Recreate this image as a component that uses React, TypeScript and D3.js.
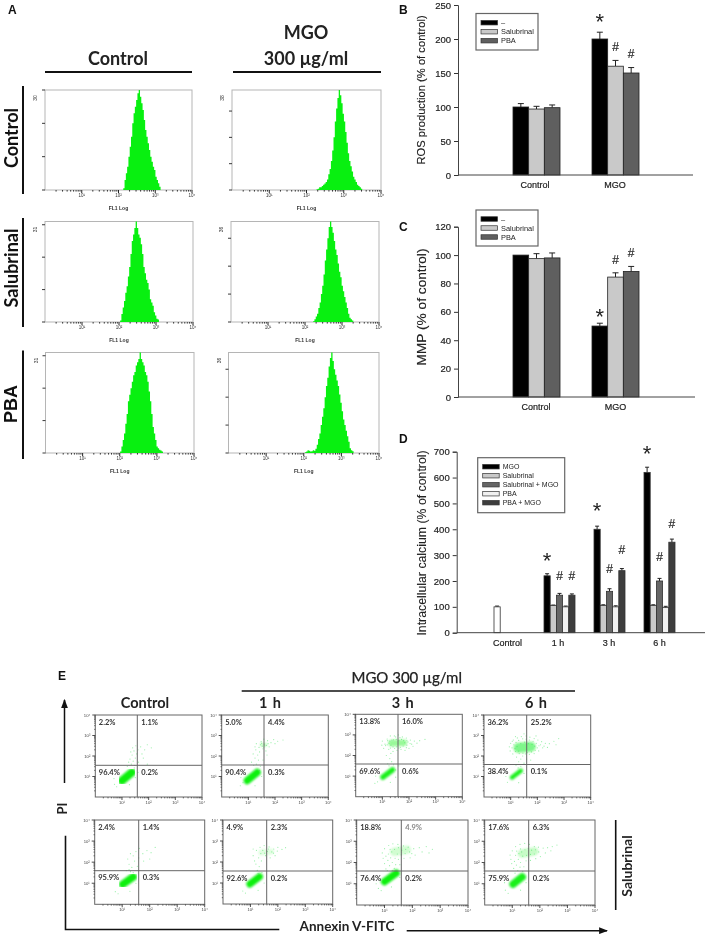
import React, { useEffect, useRef } from 'react';
import * as d3 from 'd3';

// ---------- Panel A: FL1 histograms (log10 start, bin counts) ----------
const histColumns = ['Control', 'MGO 300 µg/ml'];
const histRows = ['Control', 'Salubrinal', 'PBA'];
const histMax = [[30, 38], [31, 36], [31, 36]];
const histStart = [[2.13, 2.27], [2.03, 2.22], [2.01, 2.03]];
const histC1 = [0.5, 3, 5, 7, 10, 13, 16, 20, 23, 25, 27, 29, 30, 28, 26, 24, 21, 18, 16, 14, 12, 10, 8.5, 7, 6, 4, 3, 2, 1, 0.5];
const histM1 = [0.3, 0.5, 1, 1, 1.5, 2, 2.5, 3, 4, 6, 8, 11, 15, 20, 26, 31, 35, 38, 36, 33, 29, 26, 22, 18, 14, 11, 9, 7, 5, 4, 3, 2, 1.5, 1, 0.5, 0.3];
const histC2 = [0.5, 2.5, 4.5, 6.5, 9, 11, 14, 17, 21, 25, 27, 29, 31, 29, 27, 26, 24, 21, 17, 15, 13, 12, 10, 7, 6, 5, 3, 2, 1, 0.8, 0.5];
const histM2 = [0.3, 1, 2, 3, 5, 7, 10, 13, 17, 22, 26, 30, 34, 36, 34, 32, 29, 26, 24, 21, 18, 16, 13, 11, 9, 7, 5, 3, 1.5, 1, 0.5, 0.3];
const histC3 = [0.5, 2, 4, 6, 9, 12, 16, 18, 20, 22, 24, 25, 27, 28, 29, 31, 29, 28, 27, 25, 24, 22, 19, 16, 12, 8, 6, 4, 2, 1.5, 1, 0.8, 0.5, 0.3];
const histM3 = [0.3, 0.5, 1, 0.8, 0.5, 0.6, 1, 0.8, 1.5, 3, 5, 7, 10, 13, 16, 20, 24, 27, 31, 34, 36, 33, 30, 28, 26, 24, 21, 18, 15, 12, 10, 8, 6, 4, 1.7, 1, 0.6, 0.3];
const histCounts = [[histC1, histM1], [histC2, histM2], [histC3, histM3]];
const histBinWidth = 0.035;
const logLabels = ['10¹', '10²', '10³', '10⁴'];

// ---------- Panel B ----------
const bCategories = ['Control', 'MGO'];
const bSeries = ['–', 'Salubrinal', 'PBA'];
const bValues = [[100, 97, 99], [200, 160, 150]];
const bErrors = [[5, 4, 4], [10, 8.5, 8]];
const bMarks = [
  { cat: 1, ser: 0, sym: '*', at: 231 },
  { cat: 1, ser: 1, sym: '#', at: 189 },
  { cat: 1, ser: 2, sym: '#', at: 178 },
];

// ---------- Panel C ----------
const cValues = [[100, 97.5, 98], [50, 84.5, 88.5]];
const cErrors = [[0, 3.5, 3.5], [2, 3, 3.5]];
const cMarks = [
  { cat: 1, ser: 0, sym: '*', at: 59 },
  { cat: 1, ser: 1, sym: '#', at: 96.5 },
  { cat: 1, ser: 2, sym: '#', at: 102 },
];

// ---------- Panel D ----------
const dCategories = ['Control', '1 h', '3 h', '6 h'];
const dSeries = ['MGO', 'Salubrinal', 'Salubrinal + MGO', 'PBA', 'PBA + MGO'];
const dValues = [
  [100, null, null, null, null],
  [220, 105, 145, 100, 145],
  [400, 105, 160, 100, 240],
  [620, 105, 200, 97, 350],
];
const dErrors = [
  [3, 0, 0, 0, 0],
  [8, 2, 7, 3, 5],
  [12, 3, 10, 4, 8],
  [20, 3, 10, 5, 12],
];
const dMarks = [
  { cat: 1, ser: 0, sym: '*', at: 294 },
  { cat: 1, ser: 2, sym: '#', at: 219 },
  { cat: 1, ser: 4, sym: '#', at: 219 },
  { cat: 2, ser: 0, sym: '*', at: 485 },
  { cat: 2, ser: 2, sym: '#', at: 246 },
  { cat: 2, ser: 4, sym: '#', at: 323 },
  { cat: 3, ser: 0, sym: '*', at: 706 },
  { cat: 3, ser: 2, sym: '#', at: 294 },
  { cat: 3, ser: 4, sym: '#', at: 420 },
];

// ---------- Panel E: Annexin V / PI quadrants ----------
const eColumns = ['Control', '1 h', '3 h', '6 h'];
const quadTop = [
  ['2.2%', '1.1%', '96.4%', '0.2%'],
  ['5.0%', '4.4%', '90.4%', '0.3%'],
  ['13.8%', '16.0%', '69.6%', '0.6%'],
  ['36.2%', '25.2%', '38.4%', '0.1%'],
];
const quadBottom = [
  ['2.4%', '1.4%', '95.9%', '0.3%'],
  ['4.9%', '2.3%', '92.6%', '0.2%'],
  ['18.8%', '4.9%', '76.4%', '0.2%'],
  ['17.6%', '6.3%', '75.9%', '0.2%'],
];
// dense populations: x0, y0, x1, y1 (log10 units), spread (log10 units), opacity
const clustersTop = [
  [[1.0, 0.8, 1.37, 1.2, 0.3, 1]],
  [[0.96, 0.8, 1.33, 1.2, 0.27, 1], [1.5, 2.55, 1.65, 2.55, 0.15, 0.2]],
  [[1.02, 0.95, 1.38, 1.3, 0.2, 0.95], [1.35, 2.6, 1.8, 2.62, 0.25, 0.4]],
  [[1.05, 0.95, 1.38, 1.28, 0.16, 0.95], [1.3, 2.4, 1.75, 2.45, 0.38, 0.5]],
];
const clustersBottom = [
  [[1.02, 0.95, 1.4, 1.3, 0.27, 1]],
  [[0.98, 0.95, 1.33, 1.3, 0.25, 1], [1.4, 2.45, 1.75, 2.5, 0.22, 0.12]],
  [[1.0, 1.1, 1.42, 1.5, 0.26, 1], [1.35, 2.5, 1.8, 2.6, 0.3, 0.18]],
  [[1.03, 0.98, 1.36, 1.32, 0.27, 0.95], [1.35, 2.42, 1.8, 2.52, 0.3, 0.22]],
];
const dotsTop = [
  [[1.35, 1.6], [1.42, 1.75], [1.3, 1.85], [1.5, 1.9], [1.38, 2.05], [1.55, 2.1], [1.45, 2.25], [1.6, 2.3], [1.7, 2.45], [1.52, 2.5], [1.25, 1.7], [1.75, 2.1], [1.85, 2.3], [1.95, 2.55], [1.62, 1.7], [1.48, 1.55], [1.2, 1.5], [1.8, 1.9], [1.4, 2.4], [0.72, 0.62], [0.8, 0.5], [1.5, 0.95], [1.6, 1.2], [1.28, 0.6], [0.7, 0.9], [1.95, 1.6], [2.1, 2.4], [1.33, 2.2], [1.46, 1.42]],
  [[1.3, 1.6], [1.38, 1.8], [1.25, 1.9], [1.35, 2.05], [1.18, 2.1], [1.28, 2.3], [1.42, 2.2], [1.55, 2.35], [1.62, 2.5], [1.5, 2.62], [1.72, 2.75], [1.85, 2.65], [1.95, 2.8], [1.4, 2.42], [1.3, 2.6], [1.66, 2.25], [1.78, 2.45], [2.0, 2.6], [2.1, 2.72], [2.3, 2.78], [1.48, 2.7], [1.58, 2.82], [1.25, 2.45], [1.45, 1.5], [1.2, 1.55], [1.42, 1.3], [0.7, 0.55], [0.8, 0.7], [1.25, 0.55], [1.5, 1.0], [0.72, 0.95], [1.55, 1.8], [1.7, 2.05], [1.12, 1.7], [1.52, 2.48], [1.6, 2.58], [1.68, 2.52], [1.46, 2.55], [1.58, 2.44], [1.74, 2.6]],
  [[1.2, 1.6], [1.28, 1.85], [1.15, 2.0], [1.32, 2.1], [1.4, 2.2], [1.24, 2.3], [1.05, 2.35], [1.1, 2.55], [1.0, 2.7], [1.18, 2.8], [1.3, 2.95], [1.45, 2.95], [1.6, 3.0], [1.75, 2.9], [1.9, 2.85], [2.05, 2.75], [2.2, 2.7], [2.4, 2.72], [2.6, 2.78], [2.15, 2.45], [2.0, 2.35], [1.85, 2.25], [1.7, 2.3], [1.55, 2.25], [1.12, 2.48], [0.98, 2.5], [1.35, 1.7], [1.42, 1.55], [1.25, 1.5], [1.5, 1.3], [1.5, 2.9], [1.66, 2.87], [2.1, 2.55], [2.3, 2.6], [1.8, 2.72], [1.92, 2.5], [1.2, 2.72], [1.36, 2.75], [0.72, 0.65], [0.82, 0.72], [1.3, 0.7], [1.5, 0.95], [0.75, 1.0], [1.62, 1.5], [1.25, 2.6], [1.18, 2.52], [1.32, 2.5], [1.28, 2.7], [1.42, 2.76], [1.52, 2.78], [1.62, 2.72], [1.72, 2.78], [1.84, 2.62], [1.96, 2.66], [2.04, 2.58], [1.92, 2.74], [1.4, 2.42], [1.54, 2.42], [1.68, 2.4], [1.78, 2.46], [1.9, 2.38], [1.3, 2.36], [1.46, 2.34], [1.62, 2.36]],
  [[1.2, 1.55], [1.3, 1.72], [1.38, 1.85], [1.22, 1.95], [1.45, 2.0], [1.08, 2.1], [0.98, 2.25], [0.95, 2.45], [1.0, 2.62], [1.1, 2.78], [1.25, 2.88], [1.4, 2.95], [1.58, 2.98], [1.72, 2.92], [1.88, 2.85], [2.02, 2.78], [2.16, 2.7], [2.3, 2.62], [2.45, 2.6], [2.62, 2.72], [2.8, 2.85], [2.2, 2.4], [2.05, 2.25], [1.88, 2.12], [1.7, 2.08], [1.55, 2.1], [1.6, 1.85], [1.5, 1.65], [1.38, 1.5], [1.28, 1.42], [1.18, 2.22], [1.32, 2.12], [2.12, 2.55], [2.25, 2.48], [2.38, 2.42], [1.06, 2.72], [1.18, 2.95], [1.5, 3.08], [1.95, 2.98], [1.75, 1.8], [1.5, 1.15], [0.88, 0.72], [1.3, 0.7], [0.82, 1.0], [2.7, 2.55], [1.05, 2.4], [1.12, 2.55], [1.2, 2.66], [1.3, 2.76], [1.45, 2.84], [1.58, 2.82], [1.7, 2.78], [1.84, 2.72], [1.96, 2.62], [2.06, 2.5], [2.0, 2.4], [1.92, 2.28], [1.78, 2.2], [1.62, 2.16], [1.46, 2.14], [1.3, 2.24], [1.16, 2.36], [1.24, 2.46], [1.38, 2.6], [1.52, 2.68], [1.66, 2.6], [1.8, 2.56], [1.9, 2.48]],
];
const dotsBottom = [
  [[1.3, 1.55], [1.35, 1.75], [1.25, 1.9], [1.2, 2.15], [1.3, 2.4], [1.4, 2.3], [1.5, 2.5], [1.62, 2.65], [1.75, 2.4], [1.9, 2.55], [2.05, 2.45], [2.2, 2.7], [1.45, 2.05], [1.25, 1.65], [1.55, 1.8], [1.78, 2.05], [0.75, 0.6], [0.85, 0.5], [1.5, 1.0], [1.28, 0.62], [1.15, 1.6], [1.4, 1.5], [1.6, 2.2], [2.0, 2.15]],
  [[1.25, 1.6], [1.32, 1.78], [1.2, 1.9], [1.15, 2.05], [1.3, 2.2], [1.4, 2.05], [1.1, 2.3], [1.22, 2.55], [1.1, 2.62], [1.35, 2.7], [1.5, 2.78], [1.68, 2.72], [1.85, 2.62], [2.0, 2.7], [2.15, 2.6], [2.28, 2.68], [1.55, 2.3], [1.72, 2.2], [1.9, 2.3], [1.42, 1.5], [1.28, 1.45], [0.72, 0.62], [0.82, 0.52], [1.5, 1.0], [1.28, 0.65], [1.45, 2.55], [1.62, 2.5], [1.78, 2.48], [1.38, 2.4], [1.52, 2.42], [1.66, 2.62], [1.84, 2.42], [1.98, 2.52]],
  [[1.05, 1.7], [1.18, 1.85], [1.0, 1.95], [1.28, 2.0], [1.12, 2.1], [0.95, 2.2], [1.05, 2.3], [0.92, 2.45], [1.0, 2.65], [1.15, 2.8], [1.3, 2.88], [1.48, 2.85], [1.68, 2.78], [1.85, 2.72], [2.05, 2.65], [2.25, 2.7], [2.5, 2.75], [2.72, 2.62], [2.1, 2.35], [1.92, 2.22], [1.7, 2.2], [1.5, 2.15], [1.35, 1.72], [1.1, 1.62], [1.28, 1.62], [1.38, 2.2], [1.55, 1.9], [1.22, 2.22], [1.4, 1.9], [0.78, 0.78], [0.88, 0.68], [1.55, 1.3], [0.7, 1.0], [1.25, 0.85], [2.35, 2.5], [2.6, 2.45], [1.14, 2.4], [1.26, 2.5], [1.36, 2.62], [1.5, 2.7], [1.62, 2.58], [1.76, 2.62], [1.9, 2.5], [1.46, 2.4], [1.6, 2.36], [1.74, 2.42], [1.2, 2.62], [1.98, 2.42]],
  [[1.1, 1.5], [1.2, 1.62], [1.05, 1.72], [1.28, 1.78], [1.15, 1.88], [0.98, 1.95], [1.08, 2.05], [1.3, 2.0], [0.95, 2.15], [1.22, 2.15], [1.38, 1.58], [1.42, 1.8], [0.92, 2.35], [1.0, 2.55], [1.12, 2.75], [1.28, 2.85], [1.45, 2.9], [1.62, 2.85], [1.8, 2.75], [1.95, 2.72], [2.12, 2.68], [2.28, 2.7], [2.45, 2.75], [2.62, 2.82], [2.2, 2.45], [2.02, 2.28], [1.85, 2.18], [1.66, 2.1], [1.5, 2.08], [2.4, 2.55], [0.75, 0.7], [0.85, 0.55], [1.3, 0.7], [1.5, 1.05], [0.72, 1.05], [1.58, 1.6], [1.12, 2.34], [1.24, 2.42], [1.34, 2.5], [1.46, 2.6], [1.58, 2.66], [1.7, 2.58], [1.84, 2.6], [1.96, 2.5], [1.38, 2.3], [1.52, 2.34], [1.66, 2.38], [1.8, 2.4], [1.16, 2.54], [1.3, 2.64]],
];

// ---------- shared styling ----------
const ARIAL = '"Liberation Sans", Arial, sans-serif';
const CALIBRI = 'Lato, "Open Sans", sans-serif';
const GREEN = '#08f010';
const minorLogs = d3.range(0, 4).flatMap((d) => d3.range(2, 10).map((m) => d + Math.log10(m)));

function Axis({ kind, scale, x = 0, y = 0, values, size = 4, font = 10, format, pad = 3, width = 1 }: any) {
  const ref = useRef<SVGGElement>(null);
  useEffect(() => {
    const axis = (kind === 'left' ? d3.axisLeft(scale) : d3.axisBottom(scale)).tickSizeOuter(0).tickSize(size).tickPadding(pad);
    if (values) axis.tickValues(values);
    if (format) axis.tickFormat(format);
    const g = d3.select(ref.current as SVGGElement).call(axis as any);
    g.attr('font-family', ARIAL).attr('font-size', font).attr('font-weight', 400);
    g.selectAll('line').attr('stroke', '#333').attr('stroke-width', width);
    g.selectAll('path').attr('stroke', '#444').attr('stroke-width', width);
    g.selectAll('text').attr('fill', '#222').attr('stroke', '#222').attr('stroke-width', 0.2);
  }, []);
  return <g ref={ref} transform={`translate(${x},${y})`} />;
}

function Histogram({ row, col, box }: any) {
  const counts = histCounts[row][col];
  const x = d3.scaleLinear().domain([0, 4]).range([box.x0, box.x1]);
  const y = d3.scaleLinear().domain([0, histMax[row][col]]).range([box.y1, box.y0]);
  const start = histStart[row][col];
  const area = d3.area<number>()
    .x((_, i) => x(start + i * histBinWidth))
    .y0(box.y1)
    .y1((d) => y(d))
    .curve(d3.curveStepAfter);
  return (
    <g>
      <rect x={box.x0} y={box.y0} width={box.x1 - box.x0} height={box.y1 - box.y0} fill="none" stroke="#b5b5b5" strokeWidth={1} />
      <path d={area(counts) as string} fill={GREEN} />
      {minorLogs.map((v) => <line key={v} x1={x(v)} x2={x(v)} y1={box.y1} y2={box.y1 + 1.6} stroke="#222" strokeWidth={0.9} />)}
      {[1, 2, 3, 4].map((v, i) => (
        <g key={v}>
          <line x1={x(v)} x2={x(v)} y1={box.y1} y2={box.y1 + 3} stroke="#222" />
          <text x={x(v)} y={box.y1 + 7} fontSize={4.5} fontFamily={ARIAL} textAnchor="middle" fill="#333">{logLabels[i]}</text>
        </g>
      ))}
      {y.ticks(Math.floor(histMax[row][col] / 10)).map((v) => (
        <line key={v} x1={box.x0 - 3} x2={box.x0} y1={y(v)} y2={y(v)} stroke="#222" strokeWidth={0.9} />
      ))}
      <text transform={`translate(${box.x0 - 8},${box.y0 + 8}) rotate(-90)`} fontSize={5} fontFamily={ARIAL} textAnchor="middle" fill="#333">{histMax[row][col]}</text>
      <text x={(box.x0 + box.x1) / 2} y={box.y1 + 20} fontSize={5} fontWeight={700} fontFamily={ARIAL} textAnchor="middle" fill="#333">FL1 Log</text>
    </g>
  );
}

function BarChart({ cats, vals, errs, marks, fills, y, band, inner, axisY, xRange, yTicks, tickFont, labelFont, labelY, labelOffsets, capW, barStroke = '#222', starSize, hashSize }: any) {
  return (
    <g>
      {vals.map((row: any[], c: number) => row.map((v: number | null, s: number) => {
        if (v == null) return null;
        const x0 = (band(cats[c]) as number) + (inner(s) as number);
        const w = inner.bandwidth();
        const cx = x0 + w / 2;
        return (
          <g key={`${c}-${s}`}>
            {errs[c][s] > 0 && <g stroke="#222" strokeWidth={1}>
              <line x1={cx} x2={cx} y1={y(v)} y2={y(v + errs[c][s])} />
              <line x1={cx - capW} x2={cx + capW} y1={y(v + errs[c][s])} y2={y(v + errs[c][s])} />
            </g>}
            <rect x={x0} y={y(v)} width={w} height={axisY - y(v)} fill={row[1] == null ? '#ffffff' : fills[s]} stroke={barStroke} strokeWidth={0.8} />
          </g>
        );
      }))}
      <Axis kind="left" scale={y} x={xRange[0]} values={yTicks} font={tickFont} size={4} />
      <line x1={xRange[0]} x2={xRange[1]} y1={axisY} y2={axisY} stroke="#444" strokeWidth={1} />
      {cats.map((c: string, i: number) => (
        <text key={c} x={(band(c) as number) + band.bandwidth() / 2 + (labelOffsets ? labelOffsets[i] : 0)} y={labelY} fontSize={labelFont} fontFamily={ARIAL} textAnchor="middle" stroke="#222" strokeWidth={0.2} fill="#222">{c}</text>
      ))}
      {marks.map((m: any, i: number) => {
        const cx = (band(cats[m.cat]) as number) + (inner(m.ser) as number) + inner.bandwidth() / 2;
        const py = y(m.at);
        return m.sym === '*'
          ? <text key={i} x={cx} y={py + starSize * 0.5} fontSize={starSize} fontFamily={ARIAL} textAnchor="middle" fill="#222">*</text>
          : <text key={i} x={cx} y={py + hashSize * 0.36} fontSize={hashSize} fontFamily={ARIAL} textAnchor="middle" fill="#222" stroke="#222" strokeWidth={0.15}>#</text>;
      })}
    </g>
  );
}

function Legend({ x, y, w, h, names, fills, rowY, swX, swW, swH, labelX, font }: any) {
  return (
    <g>
      <rect x={x} y={y} width={w} height={h} fill="#fff" stroke="#666" strokeWidth={1.2} />
      {names.map((n: string, i: number) => (
        <g key={n}>
          <rect x={swX} y={rowY(i) - swH / 2} width={swW} height={swH} fill={fills[i]} stroke="#333" strokeWidth={0.7} />
          <text x={labelX} y={rowY(i) + font * 0.36} fontSize={font} fontFamily={ARIAL} fill="#222">{n}</text>
        </g>
      ))}
    </g>
  );
}

function Scatter({ box, quad, clusters, dots, vx, hy }: any) {
  const x = d3.scaleLinear().domain([0, 4]).range([box.x0, box.x1]);
  const y = d3.scaleLinear().domain([0, 4]).range([box.y1, box.y0]);
  const unit = x(1) - x(0);
  return (
    <g>
      <g filter="url(#clusterBlur)">
        {clusters.map((c: number[], i: number) => (
          <line key={i} x1={x(c[0])} y1={y(c[1])} x2={x(c[2])} y2={y(c[3])} stroke={GREEN} strokeWidth={c[4] * unit} strokeLinecap="round" opacity={c[5]} />
        ))}
      </g>
      {dots.map((d: number[], i: number) => <circle key={i} cx={x(d[0])} cy={y(d[1])} r={0.6} fill="#22dd44" opacity={0.45} />)}
      <rect x={box.x0} y={box.y0} width={box.x1 - box.x0} height={box.y1 - box.y0} fill="none" stroke="#666" strokeWidth={1} />
      <line x1={vx} x2={vx} y1={box.y0} y2={box.y1} stroke="#666" strokeWidth={1} />
      <line x1={box.x0} x2={box.x1} y1={hy} y2={hy} stroke="#666" strokeWidth={1} />
      {minorLogs.map((v) => (
        <g key={v} stroke="#333" strokeWidth={0.7}>
          <line x1={x(v)} x2={x(v)} y1={box.y1} y2={box.y1 + 1.4} />
          <line x1={box.x0} x2={box.x0 - 1.2} y1={y(v)} y2={y(v)} />
        </g>
      ))}
      {[1, 2, 3, 4].map((v, i) => (
        <g key={v}>
          <line x1={x(v)} x2={x(v)} y1={box.y1} y2={box.y1 + 3} stroke="#222" strokeWidth={0.8} />
          <line x1={box.x0 - 3} x2={box.x0} y1={y(v)} y2={y(v)} stroke="#222" strokeWidth={0.8} />
          <text x={x(v)} y={box.y1 + 6.5} fontSize={4.2} fontFamily={ARIAL} textAnchor="middle" fill="#444">{logLabels[i]}</text>
          <text x={box.x0 - 5} y={y(v) + 1.5} fontSize={4.2} fontFamily={ARIAL} textAnchor="end" fill="#444">{logLabels[i]}</text>
        </g>
      ))}
      {quad.map((q: string, i: number) => (
        <text key={i} x={i % 2 === 0 ? box.x0 + 3.5 : vx + 4} y={i < 2 ? box.y0 + 9.5 : hy + 9.5} fontSize={7.5} fontWeight={700} fontFamily={CALIBRI}
          fill={q === '4.9%' && i === 1 && box.x0 > 350 ? '#888' : '#333'}>{q}</text>
      ))}
    </g>
  );
}

const histBoxes = [
  [{ x0: 45, x1: 192, y0: 90, y1: 190 }, { x0: 232, x1: 381, y0: 90, y1: 190 }],
  [{ x0: 45, x1: 193, y0: 221.5, y1: 322 }, { x0: 231, x1: 379, y0: 221.5, y1: 322 }],
  [{ x0: 45.5, x1: 194, y0: 352.5, y1: 453 }, { x0: 228.5, x1: 379, y0: 352.5, y1: 453 }],
];
const sideBars = [[86, 194, 138], [218, 327, 268], [350.5, 459, 404]];
const eBoxesTop = [
  { x0: 95.3, x1: 202, y0: 715, y1: 797, vx: 137.3, hy: 765.3 },
  { x0: 221.7, x1: 328.3, y0: 715, y1: 797, vx: 264, hy: 765 },
  { x0: 355.7, x1: 462.3, y0: 714.3, y1: 796.7, vx: 398, hy: 764 },
  { x0: 484, x1: 590.7, y0: 715, y1: 797, vx: 526.7, hy: 764.5 },
];
const eBoxesBottom = [
  { x0: 94.7, x1: 204.7, y0: 820, y1: 904.3, vx: 138.7, hy: 870.7 },
  { x0: 223, x1: 332.7, y0: 820, y1: 904, vx: 266.7, hy: 871 },
  { x0: 356.7, x1: 468, y0: 820, y1: 905, vx: 401.3, hy: 871 },
  { x0: 484.7, x1: 595, y0: 820, y1: 905, vx: 528.7, hy: 871 },
];
const eColCenters = [145, 270, 402.7, 536];

const barFills = ['#000000', '#c9c9c9', '#5f5f5f'];
const dFills = ['#000000', '#c9c9c9', '#666666', '#f1f1f1', '#3d3d3d'];

export default function App() {
  const bBand = d3.scaleBand<string>().domain(bCategories).range([497, 655]).paddingInner(0.405).paddingOuter(0.2025);
  const bInner = d3.scaleBand<number>().domain(d3.range(3)).range([0, bBand.bandwidth()]);
  const bY = d3.scaleLinear().domain([0, 250]).range([175, 5]);
  const cY = d3.scaleLinear().domain([0, 120]).range([397, 226.7]);
  const dBand = d3.scaleBand<string>().domain(dCategories).range([484.5, 684.5]).paddingInner(0.38).paddingOuter(0.19);
  const dInner = d3.scaleBand<number>().domain(d3.range(5)).range([0, dBand.bandwidth()]);
  const dY = d3.scaleLinear().domain([0, 700]).range([632.7, 451.7]);

  return (
    <svg width={709} height={934} style={{ position: 'absolute', left: 0, top: 0, background: '#fff' }}>
      <defs>
        <filter id="clusterBlur" x="-30%" y="-30%" width="160%" height="160%"><feGaussianBlur stdDeviation={1.1} /></filter>
        <marker id="arrow" viewBox="0 0 8 6" refX="7" refY="3" markerWidth="6" markerHeight="5" orient="auto"><path d="M0,0L8,3L0,6z" fill="#111" /></marker>
      </defs>
      <rect width={709} height={934} fill="#fff" />
      <g style={{ filter: 'blur(0.4px)' }}>
        {/* Panel labels */}
        {[['A', 8, 14], ['B', 399, 14], ['C', 399, 231], ['D', 399, 443], ['E', 58, 680]].map(([t, x, y]) => (
          <text key={t as string} x={x as number} y={y as number} fontSize={12} fontWeight={700} fontFamily={ARIAL} fill="#111">{t}</text>
        ))}

        {/* Panel A */}
        <text x={118} y={65} fontSize={18} fontWeight={700} fontFamily={CALIBRI} textAnchor="middle" fill="#222">{histColumns[0]}</text>
        <text x={306} y={39} fontSize={18} fontWeight={700} fontFamily={CALIBRI} textAnchor="middle" fill="#222">MGO</text>
        <text x={306} y={65} fontSize={18} fontWeight={700} fontFamily={CALIBRI} textAnchor="middle" fill="#222">300 µg/ml</text>
        <line x1={45} x2={192} y1={72} y2={72} stroke="#111" strokeWidth={2} />
        <line x1={233} x2={381} y1={72} y2={72} stroke="#111" strokeWidth={2} />
        {histRows.map((r, i) => (
          <g key={r}>
            <line x1={23} x2={23} y1={sideBars[i][0]} y2={sideBars[i][1]} stroke="#111" strokeWidth={2} />
            <text transform={`translate(${i === 2 ? 16.5 : 17.8},${sideBars[i][2]}) rotate(-90)`} fontSize={18} fontWeight={700} fontFamily={i === 2 ? ARIAL : CALIBRI} textAnchor="middle" fill="#111">{r}</text>
          </g>
        ))}
        {histBoxes.map((row, r) => row.map((box, c) => <Histogram key={`${r}${c}`} row={r} col={c} box={box} />))}

        {/* Panel B */}
        <text transform="translate(424.5,90) rotate(-90)" fontSize={11.2} fontFamily={ARIAL} textAnchor="middle" stroke="#222" strokeWidth={0.15} fill="#222">ROS production (% of control)</text>
        <BarChart cats={bCategories} vals={bValues} errs={bErrors} marks={bMarks} fills={barFills} y={bY} band={bBand} inner={bInner} axisY={175} xRange={[458, 693]} yTicks={[0, 50, 100, 150, 200, 250]} tickFont={9.5} labelFont={9} labelY={188} labelOffsets={[-1.5, -0.5]} capW={3} starSize={22} hashSize={12} />
        <Legend x={476} y={13.5} w={62} h={36.5} names={bSeries} fills={barFills} rowY={(i: number) => 22.7 + i * 9} swX={481} swW={16.5} swH={4.5} labelX={501} font={7.4} />

        {/* Panel C */}
        <text transform="translate(425.5,307) rotate(-90)" fontSize={13.7} fontFamily={ARIAL} textAnchor="middle" stroke="#222" strokeWidth={0.15} fill="#222">MMP (% of control)</text>
        <BarChart cats={bCategories} vals={cValues} errs={cErrors} marks={cMarks} fills={barFills} y={cY} band={bBand} inner={bInner} axisY={397} xRange={[458, 695]} yTicks={[0, 20, 40, 60, 80, 100, 120]} tickFont={9.5} labelFont={9} labelY={410} labelOffsets={[-0.5, 0]} capW={3} starSize={22} hashSize={12} />
        <Legend x={476} y={210} w={62} h={36} names={bSeries} fills={barFills} rowY={(i: number) => 219 + i * 9} swX={481} swW={16.5} swH={4.5} labelX={501} font={7.4} />

        {/* Panel D */}
        <text transform="translate(425.5,543) rotate(-90)" fontSize={12.3} fontFamily={ARIAL} textAnchor="middle" stroke="#222" strokeWidth={0.1} fill="#222">Intracellular calcium (% of control)</text>
        <BarChart cats={dCategories} vals={dValues} errs={dErrors} marks={dMarks} fills={dFills} y={dY} band={dBand} inner={dInner} axisY={632.7} xRange={[456.7, 705]} yTicks={[0, 100, 200, 300, 400, 500, 600, 700]} tickFont={9.5} labelFont={9} labelY={646} labelOffsets={[-2, -1.5, -0.5, 0]} capW={2} barStroke="#333" starSize={22} hashSize={12} />
        <Legend x={477.7} y={457.7} w={87} h={55} names={dSeries} fills={dFills} rowY={(i: number) => 466.7 + i * 9} swX={482.7} swW={16.5} swH={4.5} labelX={502.7} font={7} />

        {/* Panel E */}
        <text x={406.7} y={683} fontSize={15} fontWeight={400} fontFamily={CALIBRI} textAnchor="middle" fill="#222" stroke="#222" strokeWidth={0.25}>MGO 300 µg/ml</text>
        <line x1={241.7} x2={575} y1={691} y2={691} stroke="#111" strokeWidth={1.6} />
        {eColumns.map((c, i) => (
          <text key={c} x={eColCenters[i]} y={708} fontSize={14.5} fontWeight={700} fontFamily={CALIBRI} textAnchor="middle" fill="#222" wordSpacing={2}>{c}</text>
        ))}
        {eBoxesTop.map((b, i) => <Scatter key={i} box={b} quad={quadTop[i]} clusters={clustersTop[i]} dots={dotsTop[i]} vx={b.vx} hy={b.hy} />)}
        {eBoxesBottom.map((b, i) => <Scatter key={i} box={b} quad={quadBottom[i]} clusters={clustersBottom[i]} dots={dotsBottom[i]} vx={b.vx} hy={b.hy} />)}
        <line x1={64.5} x2={64.5} y1={783} y2={700} stroke="#111" strokeWidth={1.5} markerEnd="url(#arrow)" />
        <text transform="translate(67,808.5) rotate(-90)" fontSize={13} fontWeight={700} fontFamily={CALIBRI} textAnchor="middle" fill="#222">PI</text>
        <path d="M65.5,835.7V929.5H279.3" fill="none" stroke="#111" strokeWidth={1.6} />
        <text x={347} y={931} fontSize={13.5} fontWeight={700} fontFamily={CALIBRI} textAnchor="middle" fill="#222">Annexin V-FITC</text>
        <line x1={406.7} x2={607} y1={930.7} y2={930.7} stroke="#111" strokeWidth={1.5} markerEnd="url(#arrow)" />
        <line x1={615.7} x2={615.7} y1={820} y2={910} stroke="#111" strokeWidth={1.6} />
        <text transform="translate(631.7,866) rotate(-90)" fontSize={14} fontWeight={700} fontFamily={CALIBRI} textAnchor="middle" fill="#222">Salubrinal</text>
      </g>
    </svg>
  );
}
